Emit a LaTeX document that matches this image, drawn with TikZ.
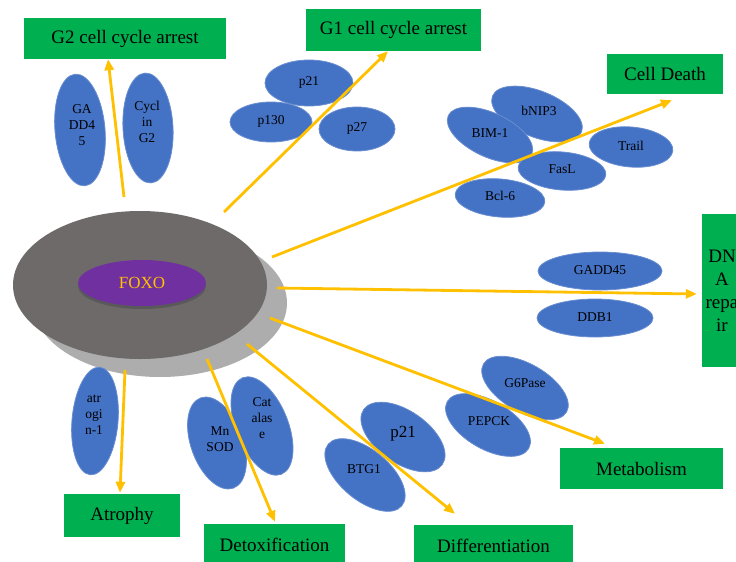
\documentclass[tikz,border=0pt]{standalone}
\usepackage{fontspec}
\setmainfont{Liberation Serif}
\usetikzlibrary{shapes.geometric, arrows.meta}
\definecolor{boxgreen}{HTML}{00B050}
\definecolor{geneblue}{HTML}{4472C4}
\definecolor{arrowgold}{HTML}{FFC000}
\definecolor{shellgray}{HTML}{6E6A6A}
\definecolor{shadowgray}{HTML}{ADADAD}
\definecolor{foxopurple}{HTML}{7030A0}
\tikzset{
  outcome/.style={fill=boxgreen, inner sep=0pt, align=center, font=\fontsize{19}{23}\selectfont},
  gene/.style={fill=geneblue, draw=geneblue!80!white, line width=0.8pt},
  genetxt/.style={align=center, inner sep=0pt, text=black, font=\fontsize{13.5}{16}\selectfont},
  arr/.style={draw=arrowgold, line width=2.8pt, -{Triangle[length=11pt, width=9pt]}}
}
\begin{document}
\begin{tikzpicture}[x=1pt, y=-1pt]
  %tikz  FOXO targets
    \useasboundingbox (0,0) rectangle (736,562);
    \clip (0,0) rectangle (736,562);
    \fill[shadowgray] (160,303) ellipse [x radius=127, y radius=74];
    \node[ellipse, fill=shellgray, minimum width=254pt, minimum height=148pt, inner sep=0pt] (foxo) at (140,285) {};
    \fill[black!65] (142,286) ellipse [x radius=64, y radius=23];
    \node[ellipse, fill=foxopurple, minimum width=128pt, minimum height=46pt, inner sep=0pt, text=arrowgold, font=\fontsize{17}{20}\selectfont] (foxoin) at (142,283) {FOXO};
    % gene ellipses
    \fill[gene, rotate around={5:(80,130)}] (80,130) ellipse [x radius=25, y radius=56];
    \fill[gene, rotate around={3:(148,128)}] (148,128) ellipse [x radius=25, y radius=55];
    \fill[gene] (309,83) ellipse [x radius=44, y radius=23];
    \fill[gene] (271,122) ellipse [x radius=41, y radius=20];
    \fill[gene] (357,129) ellipse [x radius=38, y radius=22];
    \fill[gene, rotate around={-22:(537,114)}] (537,114) ellipse [x radius=48, y radius=23];
    \fill[gene, rotate around={-25:(490,135)}] (490,135) ellipse [x radius=46, y radius=22];
    \fill[gene, rotate around={-5:(631,147)}] (631,147) ellipse [x radius=42, y radius=20];
    \fill[gene, rotate around={-5:(562,171)}] (562,171) ellipse [x radius=44, y radius=19];
    \fill[gene, rotate around={-5:(500,198)}] (500,198) ellipse [x radius=45, y radius=19];
    \fill[gene] (600,271) ellipse [x radius=62, y radius=19];
    \fill[gene] (595,318) ellipse [x radius=58, y radius=19];
    \fill[gene, rotate around={-5:(95,421)}] (95,421) ellipse [x radius=23, y radius=54];
    \fill[gene, rotate around={20:(217,443)}] (217,443) ellipse [x radius=26, y radius=48];
    \fill[gene, rotate around={22:(262,426)}] (262,426) ellipse [x radius=26, y radius=52];
    \fill[gene, rotate around={-40:(365,475)}] (365,475) ellipse [x radius=48, y radius=25];
    \fill[gene, rotate around={-35:(403,437)}] (403,437) ellipse [x radius=48, y radius=26];
    \fill[gene, rotate around={-30:(488,425)}] (488,425) ellipse [x radius=47, y radius=24];
    \fill[gene, rotate around={-30:(525,388)}] (525,388) ellipse [x radius=48, y radius=24];
    \node[genetxt] (gaddL) at (82,125) {GA\\DD4\\5};
    \node[genetxt] (cyclin) at (147,122) {Cycl\\in\\G2};
    \node[genetxt] (p21a) at (309,82) {p21};
    \node[genetxt] (p130) at (271,121) {p130};
    \node[genetxt] (p27) at (357,128) {p27};
    \node[genetxt] (bnip) at (539,111) {bNIP3};
    \node[genetxt] (bim) at (490,133) {BIM-1};
    \node[genetxt] (trail) at (631,146) {Trail};
    \node[genetxt] (fasl) at (562,169) {FasL};
    \node[genetxt] (bcl) at (500,196) {Bcl-6};
    \node[genetxt] (gaddR) at (600,270) {GADD45};
    \node[genetxt] (ddb) at (595,317) {DDB1};
    \node[genetxt] (atrogin) at (94,415) {atr\\ogi\\n-1};
    \node[genetxt] (mnsod) at (220,439) {Mn\\SOD};
    \node[genetxt] (catal) at (262,418) {Cat\\alas\\e};
    \node[genetxt] (btg) at (364,469) {BTG1};
    \node[genetxt, font=\fontsize{17}{20}\selectfont] (p21b) at (403,434) {p21};
    \node[genetxt] (pepck) at (489,421) {PEPCK};
    \node[genetxt] (g6p) at (525,383) {G6Pase};
    % outcomes
    \node[outcome, minimum width=202pt, minimum height=41pt] (g2) at (125,38.5) {G2 cell cycle arrest};
    \node[outcome, minimum width=175pt, minimum height=42pt] (g1) at (393.5,30) {G1 cell cycle arrest};
    \node[outcome, minimum width=116pt, minimum height=40pt] (death) at (665,74) {Cell Death};
    \node[outcome, minimum width=40pt, minimum height=153pt] (dna) at (722,290.5) {DN\\A\\repa\\ir};
    \node[outcome, minimum width=163pt, minimum height=41pt] (metab) at (641.5,468.5) {Metabolism};
    \node[outcome, minimum width=159pt, minimum height=41pt] (diff) at (493.5,545.5) {Differentiation};
    \node[outcome, minimum width=141pt, minimum height=41pt] (detox) at (274.5,544.5) {Detoxification};
    \node[outcome, minimum width=116pt, minimum height=43pt] (atrophy) at (122,515.5) {Atrophy};
    % arrows from FOXO
    \coordinate (fG2) at (124,197);
    \coordinate (fG1) at (224,212);
    \coordinate (fDeath) at (272,257);
    \coordinate (fDNA) at (277,288);
    \coordinate (fMet) at (270,318);
    \coordinate (fDiff) at (247,344);
    \coordinate (fDetox) at (207,359);
    \coordinate (fAtro) at (125,370);
    \draw[arr] (fG2) -- ([xshift=-17pt]g2.south);
    \draw[arr] (fG1) -- ([xshift=-5.5pt]g1.south);
    \draw[arr] (fDeath) -- ([shift={(7pt,-6pt)}]death.south);
    \draw[arr] (fDNA) -- ([shift={(-5pt,-3.5pt)}]dna.west);
    \draw[arr] (fMet) -- ([shift={(-36.5pt,4pt)}]metab.north);
    \draw[arr] (fDiff) -- ([shift={(-38.5pt,11pt)}]diff.north);
    \draw[arr] (fDetox) -- ([shift={(0.5pt,2pt)}]detox.north);
    \draw[arr] (fAtro) -- ([shift={(-2pt,1pt)}]atrophy.north);
\end{tikzpicture}
\end{document}
